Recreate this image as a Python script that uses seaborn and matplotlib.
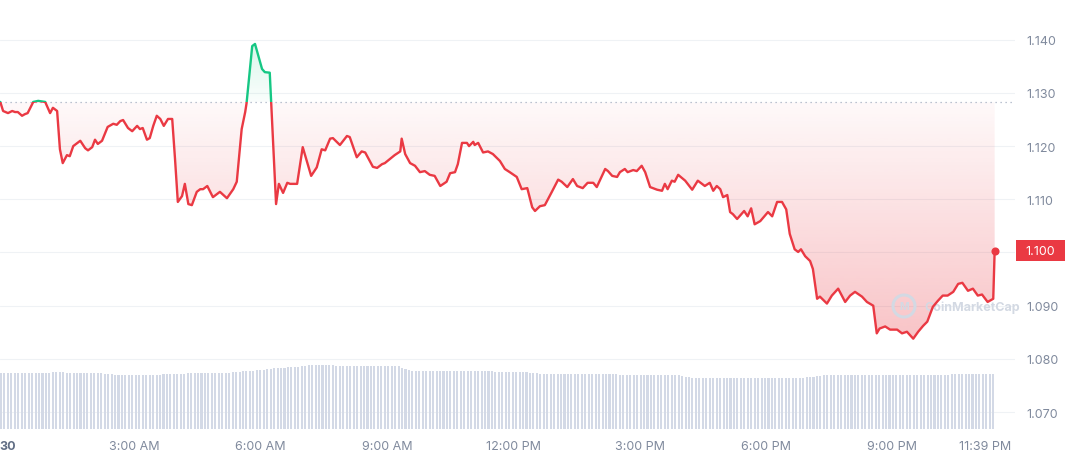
import numpy as np
import matplotlib
matplotlib.use("Agg")
import matplotlib.pyplot as plt
import matplotlib.colors as mcolors
import matplotlib.transforms as mtransforms
from matplotlib.patches import Rectangle, Circle
from matplotlib.path import Path
import seaborn as sns

RED = "#ea3943"
GREEN = "#16c784"
GREY = "#808a9d"

# price samples: minutes after midnight of the 30th (the window opens a bit before)
minutes = [
    -11, -7, 0, 6, 10, 14, 20, 24, 28, 36,
    43, 53, 60, 64, 70, 74, 78, 84, 88, 93,
    103, 110, 114, 120, 124, 128, 134, 142, 150, 155,
    160, 164, 171, 177, 184, 188, 192, 198, 202, 207,
    212, 217, 222, 228, 234, 238, 242, 248, 252, 257,
    262, 269, 274, 278, 284, 292, 302, 312, 321, 326,
    333, 338, 340, 348, 352, 362, 366, 373, 382, 386,
    392, 398, 402, 412, 420, 432, 440, 447, 452, 459,
    463, 473, 483, 487, 497, 504, 509, 520, 526, 533,
    537, 551, 559, 561, 566, 573, 580, 587, 594, 601,
    608, 616, 625, 630, 637, 641, 647, 654, 657, 663,
    665, 670, 677, 684, 691, 701, 708, 715, 725, 732,
    740, 747, 751, 758, 765, 775, 784, 789, 797, 805,
    811, 819, 826, 834, 839, 851, 855, 861, 868, 872,
    879, 883, 891, 896, 903, 908, 915, 925, 932, 936,
    940, 946, 950, 955, 965, 975, 983, 993, 1000, 1005,
    1010, 1015, 1019, 1025, 1029, 1033, 1039, 1049, 1054, 1059,
    1064, 1072, 1079, 1083, 1089, 1096, 1103, 1109, 1114, 1121,
    1126, 1130, 1136, 1143, 1147, 1153, 1157, 1167, 1174, 1183,
    1193, 1200, 1207, 1217, 1224, 1233, 1238, 1242, 1250, 1257,
    1267, 1274, 1281, 1290, 1297, 1304, 1310, 1318, 1325, 1332,
    1339, 1347, 1354, 1360, 1368, 1375, 1382, 1388, 1396, 1404,
    1406,
]
price = [
    1.1283, 1.1266, 1.1262, 1.1266, 1.1264, 1.1264, 1.1257, 1.1260, 1.1262, 1.1283,
    1.1285, 1.1283, 1.1262, 1.1272, 1.1266, 1.1194, 1.1168, 1.1183, 1.1181, 1.1200,
    1.1210, 1.1196, 1.1192, 1.1198, 1.1212, 1.1204, 1.1210, 1.1236, 1.1242, 1.1240,
    1.1247, 1.1249, 1.1234, 1.1228, 1.1238, 1.1232, 1.1234, 1.1212, 1.1215, 1.1238,
    1.1257, 1.1251, 1.1238, 1.1251, 1.1251, 1.1176, 1.1095, 1.1106, 1.1129, 1.1091,
    1.1089, 1.1114, 1.1119, 1.1119, 1.1125, 1.1104, 1.1114, 1.1102, 1.1119, 1.1133,
    1.1232, 1.1264, 1.1281, 1.1388, 1.1392, 1.1345, 1.1339, 1.1338, 1.1091, 1.1129,
    1.1112, 1.1131, 1.1129, 1.1129, 1.1198, 1.1144, 1.1160, 1.1194, 1.1192, 1.1214,
    1.1215, 1.1202, 1.1219, 1.1217, 1.1179, 1.1190, 1.1188, 1.1161, 1.1159, 1.1166,
    1.1168, 1.1183, 1.1190, 1.1214, 1.1185, 1.1168, 1.1163, 1.1151, 1.1153, 1.1146,
    1.1144, 1.1125, 1.1133, 1.1149, 1.1151, 1.1166, 1.1206, 1.1206, 1.1200, 1.1208,
    1.1202, 1.1206, 1.1188, 1.1190, 1.1185, 1.1172, 1.1157, 1.1151, 1.1142, 1.1119,
    1.1121, 1.1085, 1.1078, 1.1087, 1.1089, 1.1114, 1.1137, 1.1133, 1.1123, 1.1138,
    1.1125, 1.1121, 1.1131, 1.1131, 1.1123, 1.1157, 1.1153, 1.1144, 1.1142, 1.1151,
    1.1157, 1.1151, 1.1155, 1.1153, 1.1163, 1.1151, 1.1123, 1.1118, 1.1116, 1.1129,
    1.1119, 1.1135, 1.1133, 1.1146, 1.1135, 1.1118, 1.1135, 1.1125, 1.1131, 1.1116,
    1.1125, 1.1119, 1.1104, 1.1108, 1.1076, 1.1072, 1.1063, 1.1078, 1.1068, 1.1083,
    1.1053, 1.1059, 1.1070, 1.1076, 1.1068, 1.1095, 1.1095, 1.1081, 1.1035, 1.1006,
    1.1001, 1.1006, 1.0993, 1.0984, 1.0969, 1.0913, 1.0917, 1.0904, 1.0919, 1.0932,
    1.0907, 1.0919, 1.0926, 1.0917, 1.0907, 1.0900, 1.0848, 1.0857, 1.0861, 1.0855,
    1.0855, 1.0848, 1.0851, 1.0838, 1.0851, 1.0862, 1.0870, 1.0898, 1.0909, 1.0919,
    1.0919, 1.0926, 1.0941, 1.0943, 1.0928, 1.0932, 1.0919, 1.0921, 1.0907, 1.0913,
    1.1003,
]

# volume bars, one every ~5 minutes (arbitrary units)
volume = [
    56, 56, 56, 56, 56, 56, 56, 56, 56, 56, 56, 56, 56, 56, 56, 57,
    57, 57, 57, 56, 56, 56, 56, 56, 56, 56, 56, 56, 56, 56, 55, 55,
    55, 54, 54, 54, 54, 54, 54, 54, 54, 54, 54, 54, 54, 54, 54, 55,
    55, 55, 55, 55, 55, 55, 56, 56, 56, 56, 56, 56, 56, 56, 56, 56,
    56, 56, 56, 57, 57, 57, 58, 58, 58, 58, 59, 59, 59, 60, 60, 61,
    61, 61, 61, 62, 62, 62, 62, 63, 63, 64, 64, 64, 64, 64, 64, 64,
    64, 63, 63, 63, 63, 63, 63, 63, 63, 63, 63, 63, 63, 63, 63, 63,
    63, 63, 63, 63, 61, 60, 59, 58, 58, 58, 58, 58, 58, 58, 58, 58,
    58, 58, 58, 58, 58, 58, 58, 58, 58, 58, 58, 58, 58, 58, 58, 57,
    57, 57, 57, 57, 57, 57, 57, 57, 57, 56, 56, 56, 55, 55, 55, 55,
    55, 55, 55, 55, 55, 55, 55, 55, 55, 55, 55, 55, 55, 55, 55, 55,
    55, 55, 55, 54, 54, 54, 54, 54, 54, 54, 54, 54, 54, 54, 54, 54,
    54, 54, 54, 54, 54, 53, 52, 52, 51, 51, 51, 51, 51, 51, 51, 51,
    51, 51, 51, 51, 51, 51, 51, 51, 51, 51, 51, 51, 51, 51, 51, 51,
    51, 51, 51, 51, 51, 51, 51, 51, 51, 52, 52, 52, 53, 53, 54, 54,
    54, 54, 54, 54, 54, 54, 54, 54, 54, 54, 54, 54, 54, 54, 54, 54,
    54, 54, 54, 54, 54, 54, 54, 54, 54, 54, 54, 54, 54, 54, 54, 54,
    54, 54, 54, 55, 55, 55, 55, 55, 55, 55, 55, 55, 55, 55, 55, 55,
]
vol_minutes = np.linspace(-10, 1404, len(volume))

tick_minutes = [0, 180, 360, 540, 720, 900, 1080, 1260, 1392]
tick_labels = ["30", "3:00 AM", "6:00 AM", "9:00 AM", "12:00 PM",
               "3:00 PM", "6:00 PM", "9:00 PM", "11:39 PM"]
price_ticks = [1.070, 1.080, 1.090, 1.100, 1.110, 1.120, 1.130, 1.140]

sns.set_theme(style="white")
plt.rcParams["font.family"] = ["Inter", "DejaVu Sans"]

base = price[0]
xlo, xhi = -11.4, 1435.0
ylo, yhi = 1.06682, 1.14765

fig = plt.figure(figsize=(10.68, 4.6), dpi=100)
ax = fig.add_axes([0, 30 / 460, 1015 / 1068, 430 / 460])
ax2 = ax.twinx()

# volume bars
sns.barplot(x=vol_minutes, y=volume, native_scale=True, ax=ax2, color="#d3d9e6",
            saturation=1, width=0.6, linewidth=0, errorbar=None)
ax2.set_ylim(0, max(volume) * 430 / 64)
ax2.yaxis.set_visible(False)
ax2.set_ylabel("")

# gradient fill between the price and the open
poly = ax.fill_between(minutes, price, base, facecolor="none", edgecolor="none")
clip = Path.make_compound_path(*poly.get_paths())
vs = np.linspace(ylo, yhi, 500)
grad = np.zeros((len(vs), 1, 4))
r = mcolors.to_rgb(RED)
g = mcolors.to_rgb(GREEN)
below = vs < base
a_red = np.clip(0.03 + 0.27 * (base - vs) / (base - min(price)), 0, 0.32)
a_green = np.clip(0.02 + 0.14 * (vs - base) / (max(price) - base), 0, 0.18)
grad[below, 0, :3] = r
grad[below, 0, 3] = a_red[below]
grad[~below, 0, :3] = g
grad[~below, 0, 3] = a_green[~below]
img = ax.imshow(grad, extent=[xlo, xhi, ylo, yhi], origin="lower", aspect="auto",
                interpolation="bilinear", zorder=1)
img.set_clip_path(clip, ax.transData)

# watermark
wm = "#d3d9e3"
ax.text(9.24, (460 - 308) / 100, "CoinMarketCap", transform=fig.dpi_scale_trans,
        fontsize=9, fontweight="bold", color=wm, va="center", ha="left", zorder=3)
ax.add_patch(Circle((9.04, 1.53), 0.11, transform=fig.dpi_scale_trans, fill=False,
                    edgecolor=wm, lw=2.2, zorder=3, clip_on=False))
ax.text(9.04, 1.525, "M", transform=fig.dpi_scale_trans, fontsize=7.5, fontweight="bold",
        color=wm, ha="center", va="center", zorder=3)

# open price reference
ax.axhline(base, color="#a6b0c3", lw=0.9, ls=(0, (1, 3)), zorder=2)

# price line: red below the open, green above
sns.lineplot(x=minutes, y=price, ax=ax, color=RED, lw=1.7, sort=False, estimator=None, zorder=4)
ax.lines[-1].set_clip_path(Rectangle((xlo, ylo), xhi - xlo, base - ylo, transform=ax.transData))
sns.lineplot(x=minutes, y=price, ax=ax, color=GREEN, lw=1.7, sort=False, estimator=None, zorder=4)
ax.lines[-1].set_clip_path(Rectangle((xlo, base), xhi - xlo, yhi - base, transform=ax.transData))
ax.scatter([minutes[-1]], [price[-1]], s=34, color=RED, zorder=5, linewidths=0)

ax.set_xlim(xlo, xhi)
ax.set_ylim(ylo, yhi)
ax.yaxis.tick_right()
ax.set_yticks(price_ticks)
# the 1.100 tick sits behind the current price badge
ax.set_yticklabels(["" if abs(v - 1.100) < 1e-9 else f"{v:.3f}" for v in price_ticks])
ax.set_xticks(tick_minutes)
ax.set_xticklabels(tick_labels)
ax.grid(axis="y", color="#eff2f5", lw=0.8)
ax.grid(axis="x", visible=False)
ax.set_axisbelow(True)
ax.tick_params(axis="both", length=0, labelsize=9, colors=GREY)
ax.tick_params(axis="y", pad=8)
ax.tick_params(axis="x", pad=8)
first = ax.get_xticklabels()[0]
first.set_fontweight("bold")
first.set_color("#616e85")
ax.set_xlabel("")
ax.set_ylabel("")
for a in (ax, ax2):
    for s in a.spines.values():
        s.set_visible(False)

# current price badge
bt = mtransforms.blended_transform_factory(fig.transFigure, ax.transData)
badge = Rectangle((1016 / 1068, price[-1] - 0.00198), 49 / 1068, 0.00396, transform=bt,
                  facecolor=RED, edgecolor="none", zorder=10)
ax.add_patch(badge)
badge.set_clip_on(False)
ax.text(1040.5 / 1068, price[-1], f"{price[-1]:.3f}", transform=bt, ha="center", va="center",
        color="white", fontsize=9, zorder=11, clip_on=False)

fig.savefig("out.png", dpi=100)
